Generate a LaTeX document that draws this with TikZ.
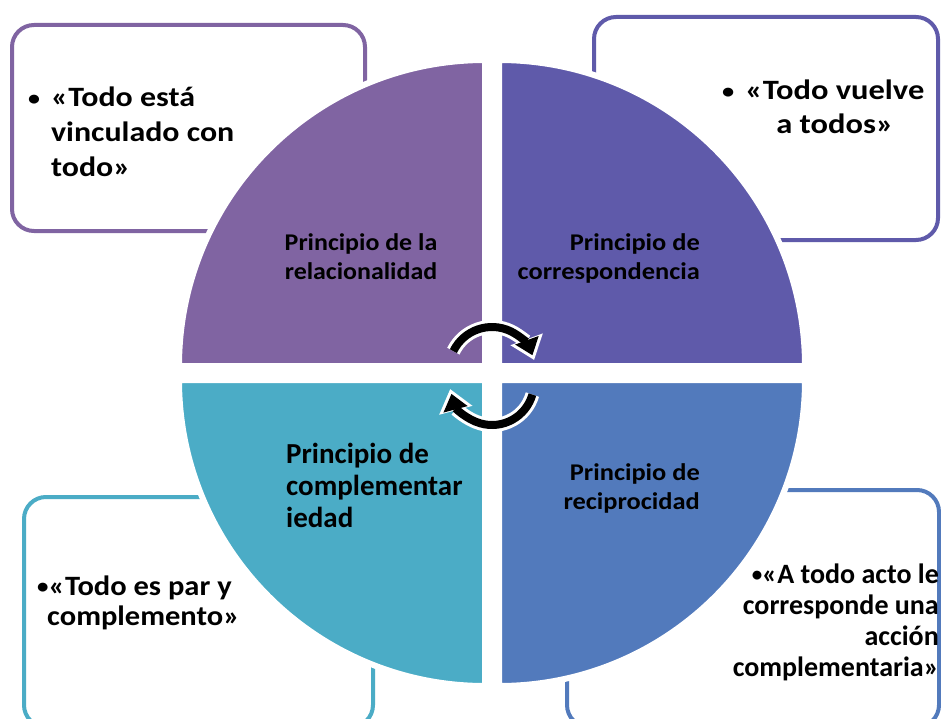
\documentclass[tikz,border=0pt]{standalone}
\usepackage{fontspec}
\setmainfont{Carlito}
\usetikzlibrary{arrows.meta}
\definecolor{cPurple}{HTML}{8064A2}
\definecolor{cIndigo}{HTML}{5F5AAA}
\definecolor{cTeal}{HTML}{4BACC6}
\definecolor{cBlue}{HTML}{527ABC}
\newcommand{\fstr}[1]{\addfontfeature{FakeStretch=#1}}
\newcommand{\bul}{\raisebox{1.5pt}{\fontsize{21}{21}\selectfont •}}
\begin{document}
\begin{tikzpicture}[x=1pt,y=-1pt,
  box/.style={line width=4pt, rounded corners=22pt, fill=white},
  quad/.style={draw=white, line width=6pt},
  lbl/.style={inner sep=0pt, font=\bfseries, text=black},
  arrwhite/.style={white, line width=14pt, -{Triangle[width=33pt,length=22pt]}, shorten >=-5pt},
  arrblack/.style={black, line width=8pt, -{Triangle[width=24pt,length=16pt]}}]
\useasboundingbox (0,0) rectangle (941,719);
\fill[white] (0,0) rectangle (941,719);
% boxes
\draw[box, draw=cPurple] (12,25) rectangle (365,231);
\draw[box, draw=cIndigo] (594,17) rectangle (938,240);
\draw[box, draw=cTeal] (24,497) rectangle (373,727);
\draw[box, draw=cBlue] (567,490) rectangle (939,727);
% quadrants
\filldraw[quad, fill=cPurple] (485,366) -- (179,366) arc[start angle=180,end angle=270,radius=306] -- cycle;
\filldraw[quad, fill=cIndigo] (499,366) -- (499,60) arc[start angle=270,end angle=360,radius=306] -- cycle;
\filldraw[quad, fill=cTeal] (485,380) -- (179,380) arc[start angle=180,end angle=90,radius=306] -- cycle;
\filldraw[quad, fill=cBlue] (499,380) -- (805,380) arc[start angle=0,end angle=90,radius=306] -- cycle;
% circular arrows
\coordinate (c1) at (492,370);
\coordinate (c2) at (492,383);
\draw[arrwhite] ([shift={(206:43)}]c1) arc[start angle=206,end angle=340,radius=43];
\draw[arrblack] ([shift={(206:43)}]c1) arc[start angle=206,end angle=340,radius=43];
\draw[arrwhite] ([shift={(16:42)}]c2) arc[start angle=16,end angle=165,radius=42];
\draw[arrblack] ([shift={(16:42)}]c2) arc[start angle=16,end angle=165,radius=42];
% box texts
\node[lbl, anchor=base west] (t1) at (28,107) {\fontsize{28}{35}\selectfont\fstr{1.14}\begin{tabular}[t]{@{}l@{\hspace{11pt}}l@{}}\bul&«Todo está\\&vinculado con\\&todo»\end{tabular}};
\node[lbl, anchor=base west] (t2) at (722,100) {\fontsize{28}{34}\selectfont\fstr{1.16}\begin{tabular}[t]{@{}l@{\hspace{11pt}}c@{}}\bul&«Todo vuelve\\&a todos»\end{tabular}};
\node[lbl, anchor=base west] (t3) at (37,595) {\fontsize{28}{30}\selectfont\fstr{1.09}\begin{tabular}[t]{@{}l@{}}\bul«Todo es par y\\\hspace{10pt}complemento»\end{tabular}};
\node[lbl, anchor=base east] (t4) at (939,583) {\fontsize{28}{31}\selectfont\begin{tabular}[t]{@{}r@{}}\bul«A todo acto le\\corresponde una\\acción\\complementaria»\end{tabular}};
% quadrant labels
\node[lbl, anchor=base] (q1) at (361,250) {\fontsize{24}{29.5}\selectfont\fstr{1.08}\begin{tabular}[t]{@{}c@{}}Principio de la\\relacionalidad\end{tabular}};
\node[lbl, anchor=base east] (q2) at (700,250) {\fontsize{24}{29.5}\selectfont\fstr{1.1}\begin{tabular}[t]{@{}r@{}}Principio de\\correspondencia\end{tabular}};
\node[lbl, anchor=base west] (q3) at (286,463) {\fontsize{29}{32}\selectfont\begin{tabular}[t]{@{}l@{}}Principio de\\complementar\\iedad\end{tabular}};
\node[lbl, anchor=base east] (q4) at (700,480) {\fontsize{24}{29}\selectfont\fstr{1.1}\begin{tabular}[t]{@{}r@{}}Principio de\\reciprocidad\end{tabular}};
\end{tikzpicture}
\end{document}
